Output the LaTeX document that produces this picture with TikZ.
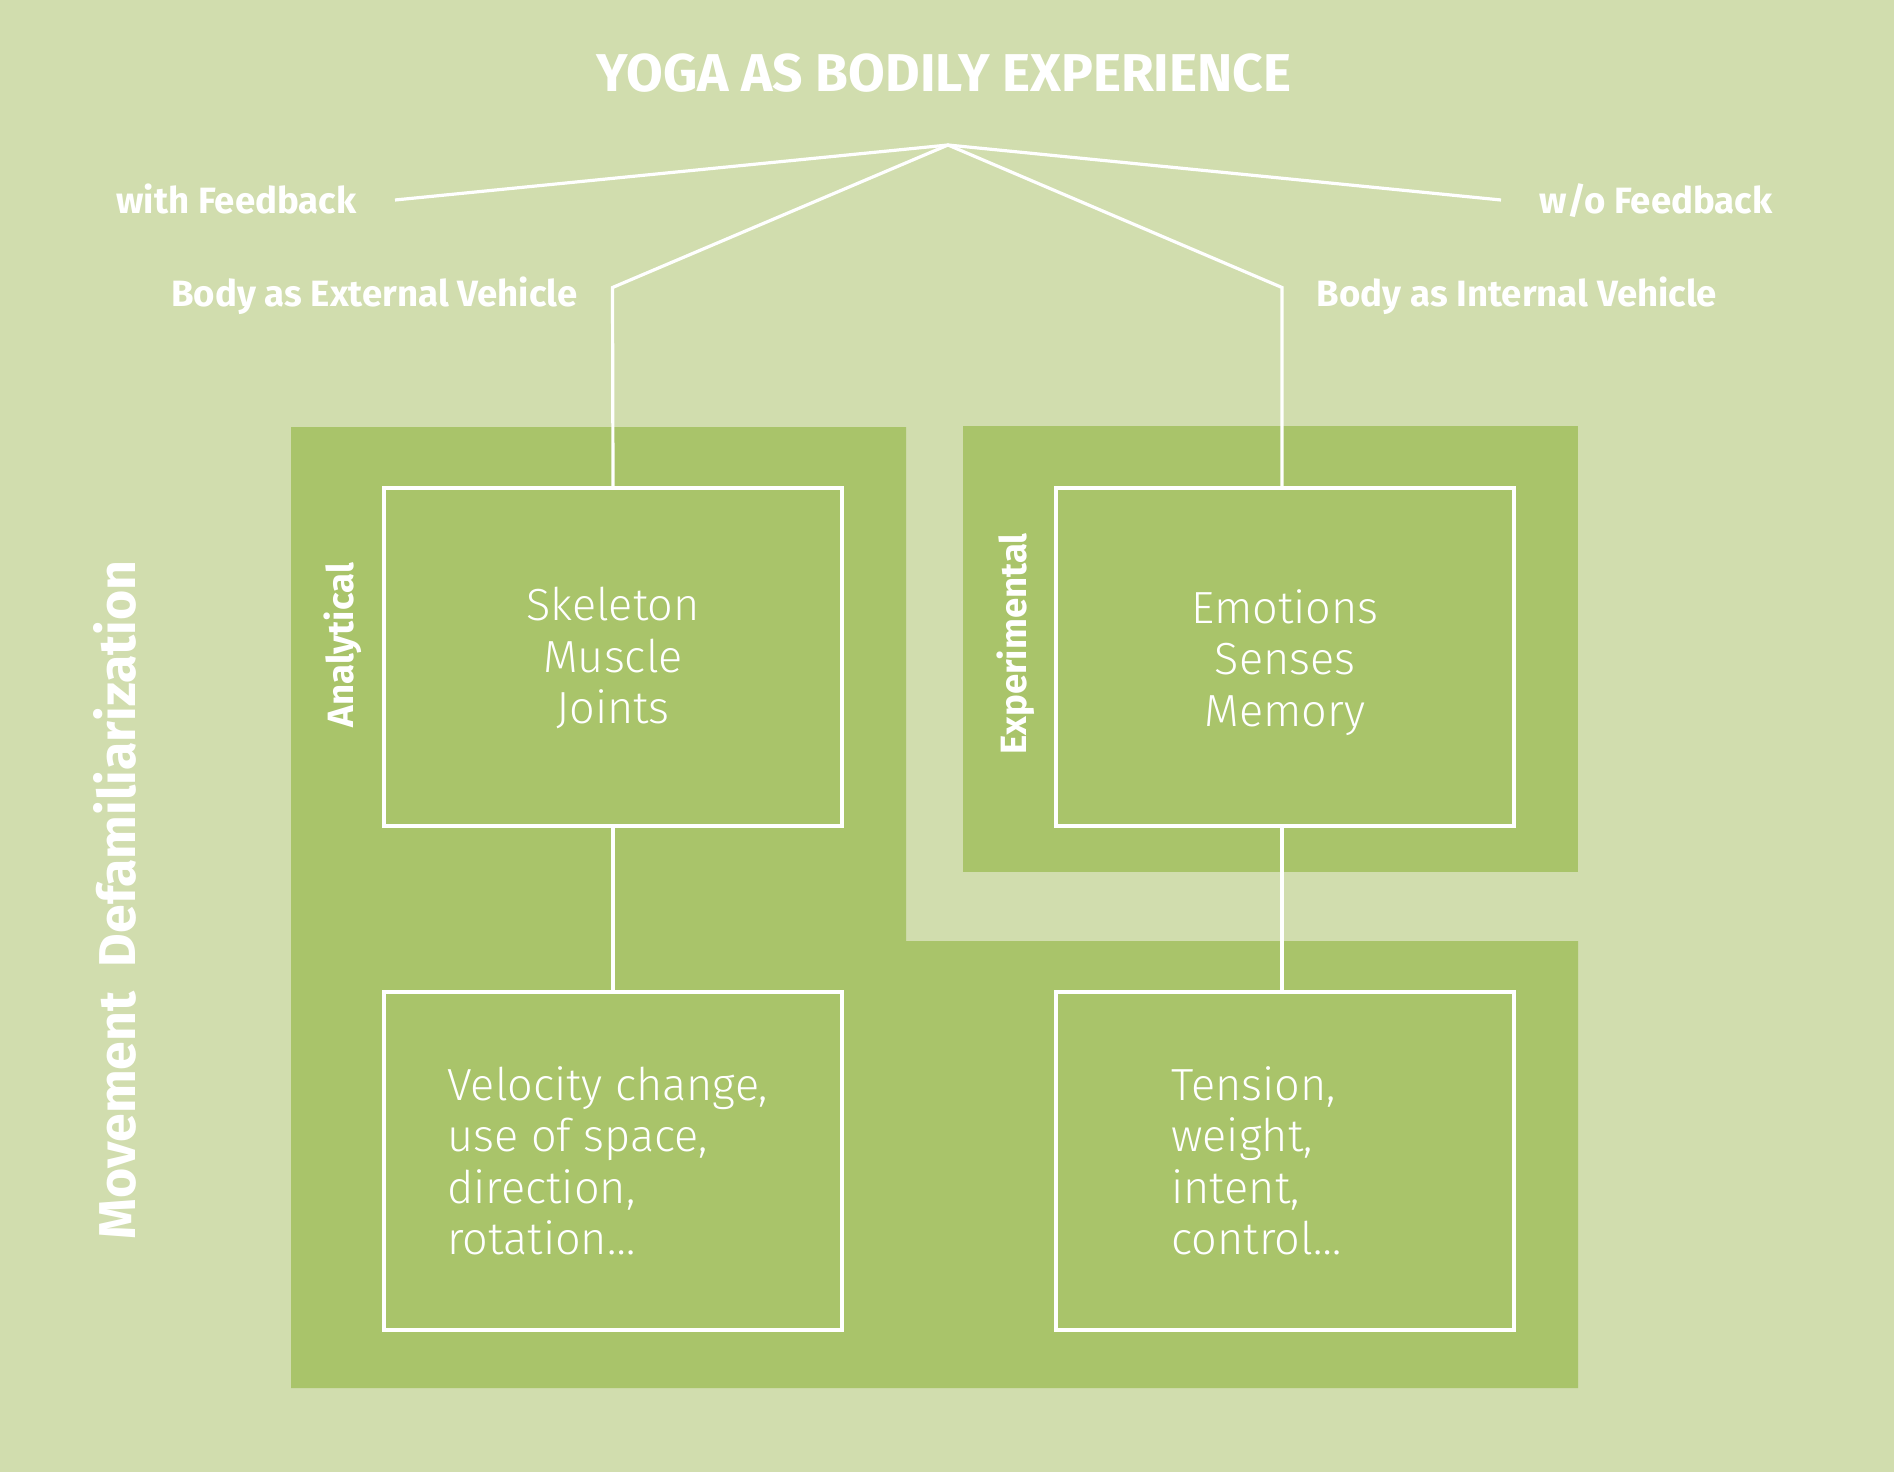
\documentclass[tikz,border=0pt]{standalone}
\usepackage{fontspec}
\setmainfont{Fira Sans}
\newfontfamily\lightfont{Fira Sans Light}
\definecolor{bgc}{RGB}{209,221,174}
\definecolor{regc}{RGB}{169,196,106}
\newcommand\boxlines[2]{\begin{tabular}[t]{@{}#1@{}}#2\end{tabular}}
\begin{document}
\begin{tikzpicture}[x=0.5pt,y=-0.5pt,
  wl/.style={draw=white, line width=1.6pt, line join=miter},
  framebox/.style={draw=white, line width=1.6pt, minimum width=229pt, minimum height=169pt, inner sep=0pt},
  boxtxt/.style={text=white, inner sep=0pt, font=\lightfont\fontsize{22.5}{25.75}\selectfont},
  lbl/.style={text=white, inner sep=0pt, font=\bfseries\fontsize{18.3}{22}\selectfont},
  titletxt/.style={text=white, inner sep=0pt, font=\bfseries\fontsize{26.6}{30}\selectfont},
  sidetxt/.style={text=white, inner sep=0pt, font=\bfseries\fontsize{25.9}{30}\selectfont}]
\useasboundingbox (0,0) rectangle (1894,1472);
\fill[bgc] (0,0) rectangle (1894,1472);
% regions
\fill[regc] (291,427) -- (906,427) -- (906,941) -- (1578,941) -- (1578,1388) -- (291,1388) -- cycle;
\fill[regc] (962.5,426) rectangle (1578,872);
% boxes
\node[framebox] (b1) at (613,657) {};
\node[framebox] (b2) at (1285,657) {};
\node[framebox] (b3) at (613,1161) {};
\node[framebox] (b4) at (1285,1161) {};
% connectors
\coordinate (apex) at (948,145);
\coordinate (wfend) at (395,200);
\coordinate (wofend) at (1501,200);
\coordinate (bendL) at (612.5,287.5);
\coordinate (bendR) at (1282,287.5);
\draw[wl] (wfend) -- (apex) -- (wofend);
\draw[wl] (b1.north) -- (bendL) -- (apex) -- (bendR) -- (bendR |- b2.north);
\draw[wl] (b1.south) -- (b3.north);
\draw[wl] (bendR |- b2.south) -- (bendR |- b4.north);
% labels
\node[titletxt, anchor=base] (title) at (944,91.7) {YOGA AS BODILY EXPERIENCE};
\node[lbl, anchor=base] (wf) at (236.5,213.3) {with Feedback};
\node[lbl, anchor=base] (wof) at (1656,213.3) {w/o Feedback};
\node[lbl, anchor=base] (ext) at (374.5,306.7) {Body as External Vehicle};
\node[lbl, anchor=base] (int) at (1517,306.7) {Body as Internal Vehicle};
\node[lbl, anchor=base, rotate=90] (ana) at (353.3,645) {Analytical};
\node[lbl, anchor=base, rotate=90] (expm) at (1026.7,644) {Experimental};
\node[sidetxt, anchor=base, rotate=90] (mov) at (135.7,900) {Movement\ \ Defamiliarization};
% box texts
\node[boxtxt, anchor=base] (t1) at (613,620.7) {\boxlines{c}{Skeleton\\Muscle\\Joints}};
\node[boxtxt, anchor=base] (t2) at (1285,623.3) {\boxlines{c}{Emotions\\Senses\\Memory}};
\node[boxtxt, anchor=base west] (t3) at (447,1100) {\boxlines{l}{Velocity change,\\use of space,\\direction,\\rotation…}};
\node[boxtxt, anchor=base west] (t4) at (1171,1100) {\boxlines{l}{Tension,\\weight,\\intent,\\control…}};
\end{tikzpicture}
\end{document}
